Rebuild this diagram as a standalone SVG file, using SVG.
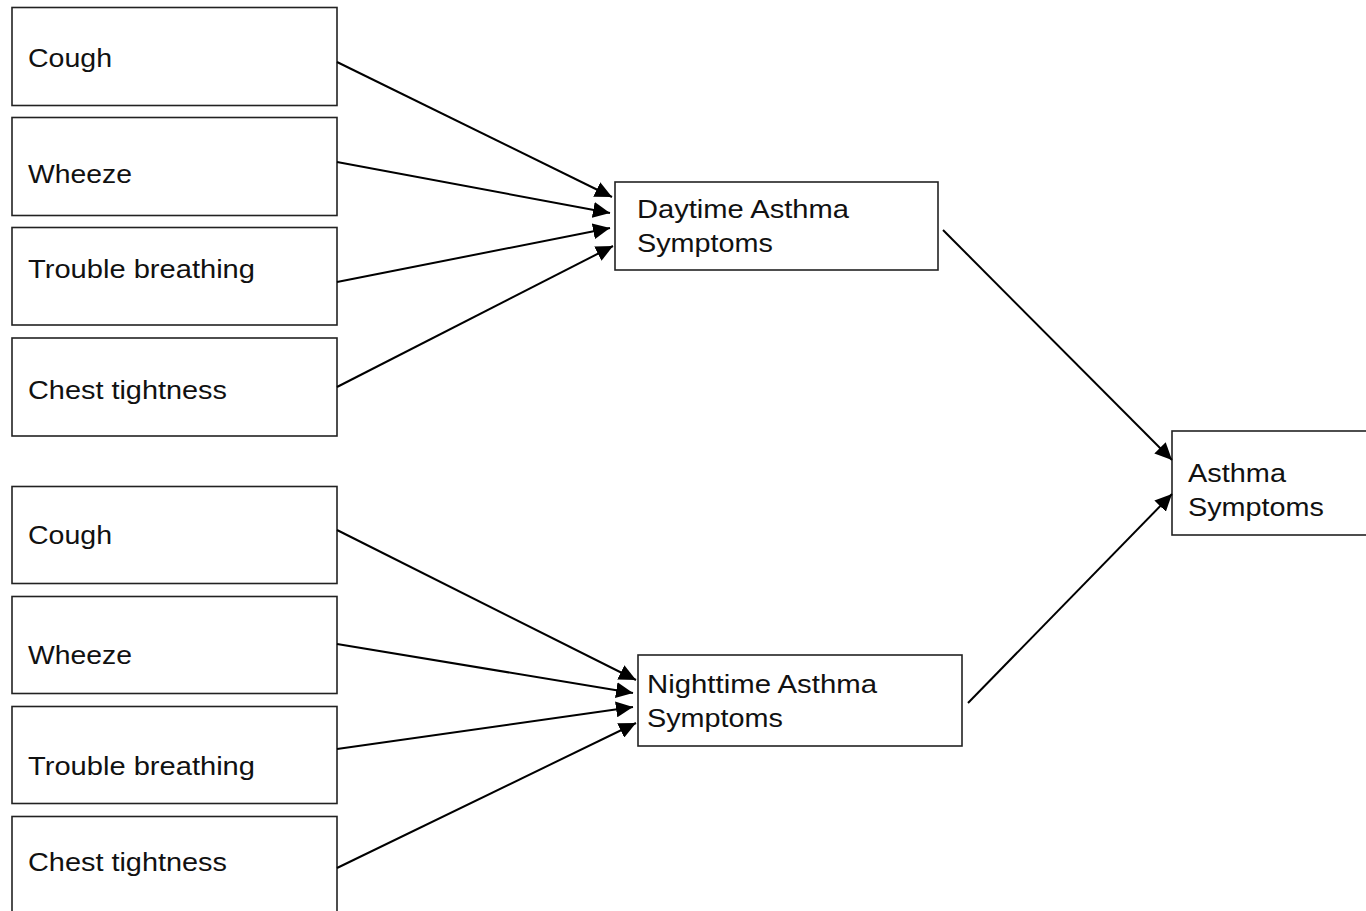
<svg xmlns="http://www.w3.org/2000/svg" width="1366" height="911" viewBox="0 0 1366 911">
<defs>
<style>
.box{fill:#fff;stroke:#222;stroke-width:1.6}
.t{font-family:"Liberation Sans",Arial,sans-serif;font-size:26px;fill:#111}
.c{stroke:#000;stroke-width:2;fill:none;marker-end:url(#ah)}
</style>
<marker id="ah" markerUnits="userSpaceOnUse" markerWidth="18" markerHeight="16" refX="17" refY="8" orient="auto" viewBox="0 0 18 16">
<path d="M0,0 L17,8 L0,16 z" fill="#000"/>
</marker>
</defs>
<rect width="1366" height="911" fill="#fff"/>
<g id="day-cough"><rect class="box" x="12" y="7.5" width="325" height="98"/><text class="t" x="28" y="67" textLength="84" lengthAdjust="spacingAndGlyphs">Cough</text></g>
<g id="day-wheeze"><rect class="box" x="12" y="117.5" width="325" height="98"/><text class="t" x="28" y="183" textLength="104" lengthAdjust="spacingAndGlyphs">Wheeze</text></g>
<g id="day-trouble"><rect class="box" x="12" y="227.5" width="325" height="97.5"/><text class="t" x="28" y="278" textLength="227" lengthAdjust="spacingAndGlyphs">Trouble breathing</text></g>
<g id="day-chest"><rect class="box" x="12" y="338" width="325" height="98"/><text class="t" x="28" y="399" textLength="199" lengthAdjust="spacingAndGlyphs">Chest tightness</text></g>
<g id="night-cough"><rect class="box" x="12" y="486.5" width="325" height="97"/><text class="t" x="28" y="544" textLength="84" lengthAdjust="spacingAndGlyphs">Cough</text></g>
<g id="night-wheeze"><rect class="box" x="12" y="596.5" width="325" height="97"/><text class="t" x="28" y="664" textLength="104" lengthAdjust="spacingAndGlyphs">Wheeze</text></g>
<g id="night-trouble"><rect class="box" x="12" y="706.5" width="325" height="97"/><text class="t" x="28" y="775" textLength="227" lengthAdjust="spacingAndGlyphs">Trouble breathing</text></g>
<g id="night-chest"><rect class="box" x="12" y="816.5" width="325" height="110"/><text class="t" x="28" y="871" textLength="199" lengthAdjust="spacingAndGlyphs">Chest tightness</text></g>
<g id="daytime"><rect class="box" x="615" y="182" width="323" height="88"/><text class="t" x="637" y="218" textLength="212" lengthAdjust="spacingAndGlyphs">Daytime Asthma</text><text class="t" x="637" y="252" textLength="136" lengthAdjust="spacingAndGlyphs">Symptoms</text></g>
<g id="nighttime"><rect class="box" x="638" y="655" width="324" height="91"/><text class="t" x="647" y="693" textLength="230" lengthAdjust="spacingAndGlyphs">Nighttime Asthma</text><text class="t" x="647" y="727" textLength="136" lengthAdjust="spacingAndGlyphs">Symptoms</text></g>
<g id="asthma"><rect class="box" x="1172" y="431" width="220" height="104"/><text class="t" x="1188" y="482" textLength="98" lengthAdjust="spacingAndGlyphs">Asthma</text><text class="t" x="1188" y="516" textLength="136" lengthAdjust="spacingAndGlyphs">Symptoms</text></g>
<g id="connectors">
<line class="c" x1="337" y1="62" x2="612" y2="197"/>
<line class="c" x1="337" y1="162" x2="610" y2="213"/>
<line class="c" x1="337" y1="282" x2="610" y2="228"/>
<line class="c" x1="337" y1="387" x2="613" y2="246"/>
<line class="c" x1="337" y1="530" x2="636" y2="680"/>
<line class="c" x1="337" y1="644" x2="633" y2="693"/>
<line class="c" x1="337" y1="749" x2="633" y2="707"/>
<line class="c" x1="337" y1="868" x2="636" y2="723"/>
<line class="c" x1="943" y1="230" x2="1172" y2="460"/>
<line class="c" x1="968" y1="703" x2="1172" y2="494"/>
</g>
</svg>
